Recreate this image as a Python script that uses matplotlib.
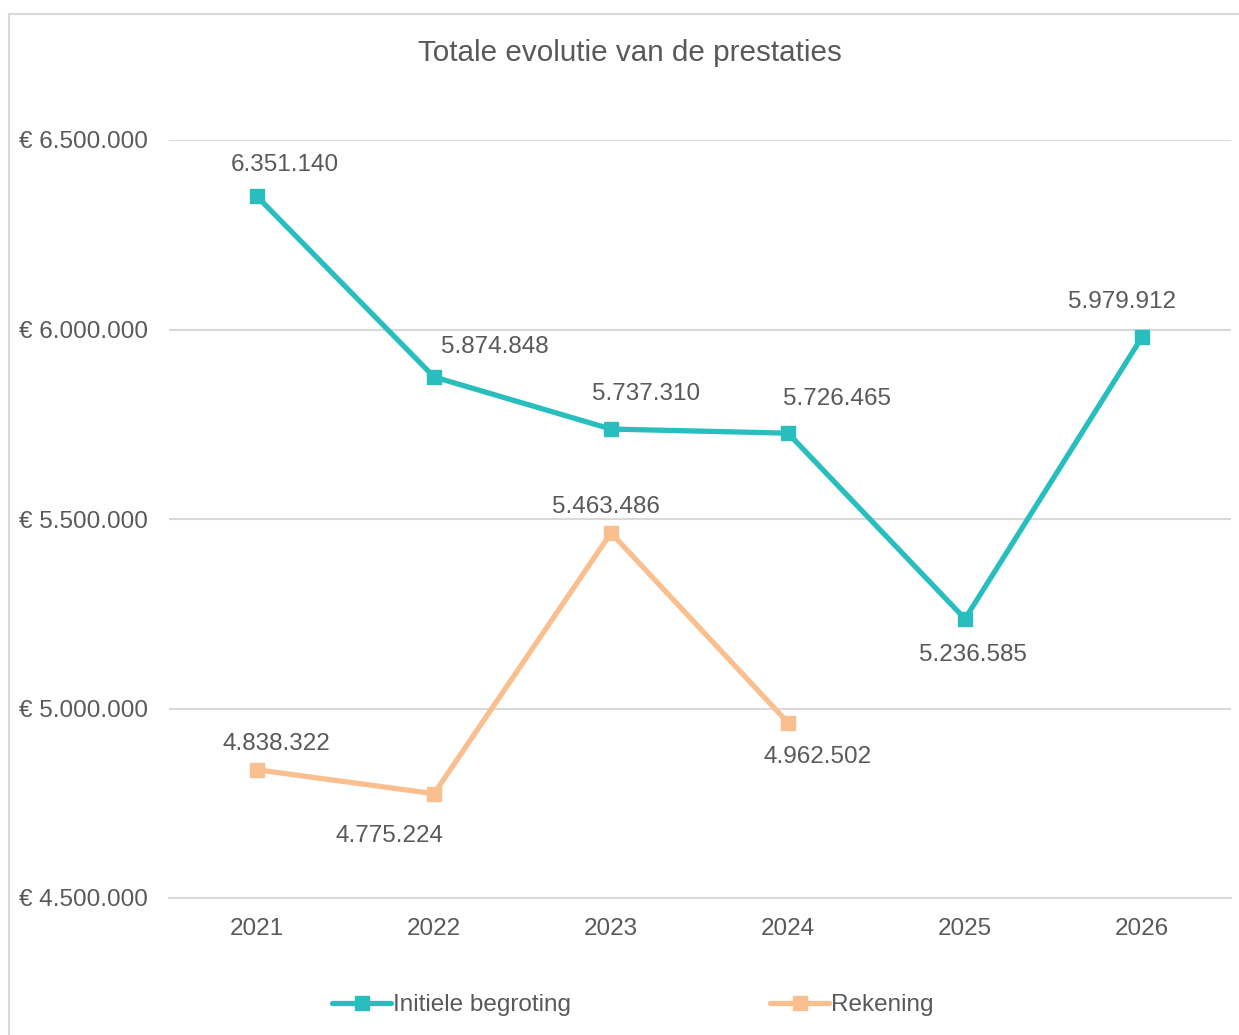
import matplotlib.pyplot as plt
from matplotlib.lines import Line2D
from matplotlib.ticker import FuncFormatter

plt.rcParams['font.family'] = ['Liberation Sans', 'DejaVu Sans']

years = ['2021', '2022', '2023', '2024', '2025', '2026']
begroting = [6351140, 5874848, 5737310, 5726465, 5236585, 5979912]
rekening = [4838322, 4775224, 5463486, 4962502]

# label offsets in pixels (dx, dy) relative to each point
off_begroting = [(28, 31), (61, 30), (35, 35), (49, 34), (8, -36), (-20, 35)]
off_rekening = [(19, 26), (-44, -42), (-5, 26), (30, -34)]

teal = '#29BEBE'
orange = '#F9BF8E'
txt = '#595959'
grid = '#D9D9D9'


def fmt_nl(v):
    return f"{int(round(v)):,}".replace(",", ".")


fig = plt.figure(figsize=(12.39, 10.35), dpi=100)
ax = fig.add_axes([168.5 / 1239, 1 - 898 / 1035, 1062 / 1239, 758 / 1035])

x1 = list(range(len(begroting)))
x2 = list(range(len(rekening)))
ax.plot(x1, begroting, color=teal, lw=3.8, marker='s', ms=10, label='Initiele begroting',
        solid_capstyle='round', zorder=3)
ax.plot(x2, rekening, color=orange, lw=3.8, marker='s', ms=10, label='Rekening',
        solid_capstyle='round', zorder=3)

for xi, v, (dx, dy) in zip(x1, begroting, off_begroting):
    ax.annotate(fmt_nl(v), (xi, v), xytext=(dx, dy), textcoords='offset pixels',
                ha='center', va='center', fontsize=17.5, color=txt)
for xi, v, (dx, dy) in zip(x2, rekening, off_rekening):
    ax.annotate(fmt_nl(v), (xi, v), xytext=(dx, dy), textcoords='offset pixels',
                ha='center', va='center', fontsize=17.5, color=txt)

ax.set_xlim(-0.5, 5.5)
ax.set_ylim(4500000, 6500000)
ax.set_yticks([4500000, 5000000, 5500000, 6000000, 6500000])
ax.yaxis.set_major_formatter(FuncFormatter(lambda v, p: "€ " + fmt_nl(v)))
ax.set_xticks(x1)
ax.set_xticklabels(years)
ax.tick_params(axis='both', length=0, labelsize=17.5, labelcolor=txt)
ax.tick_params(axis='y', pad=15)
ax.tick_params(axis='x', pad=14.5)
ax.grid(axis='y', color=grid, lw=1.5)
ax.set_axisbelow(True)
for s in ['top', 'right', 'left']:
    ax.spines[s].set_visible(False)
ax.spines['bottom'].set_color(grid)
ax.spines['bottom'].set_linewidth(1.5)

fig.text(630 / 1239, 1 - 53 / 1035, 'Totale evolutie van de prestaties',
         ha='center', va='center', fontsize=21.3, color=txt)

leg = fig.legend(loc='center', bbox_to_anchor=(633 / 1239, 1 - 1005 / 1035), ncol=2,
                 frameon=False, fontsize=17.5, handlelength=2.4, handletextpad=0.1,
                 columnspacing=8.2, labelcolor=txt)

# outer chart border (cut off at right and bottom)
fig.add_artist(Line2D([9 / 1239, 9 / 1239], [0, 1 - 14 / 1035], transform=fig.transFigure,
                      color=grid, lw=1.5))
fig.add_artist(Line2D([9 / 1239, 1], [1 - 14 / 1035, 1 - 14 / 1035], transform=fig.transFigure,
                      color=grid, lw=1.5))

fig.savefig('out.png', dpi=100)
